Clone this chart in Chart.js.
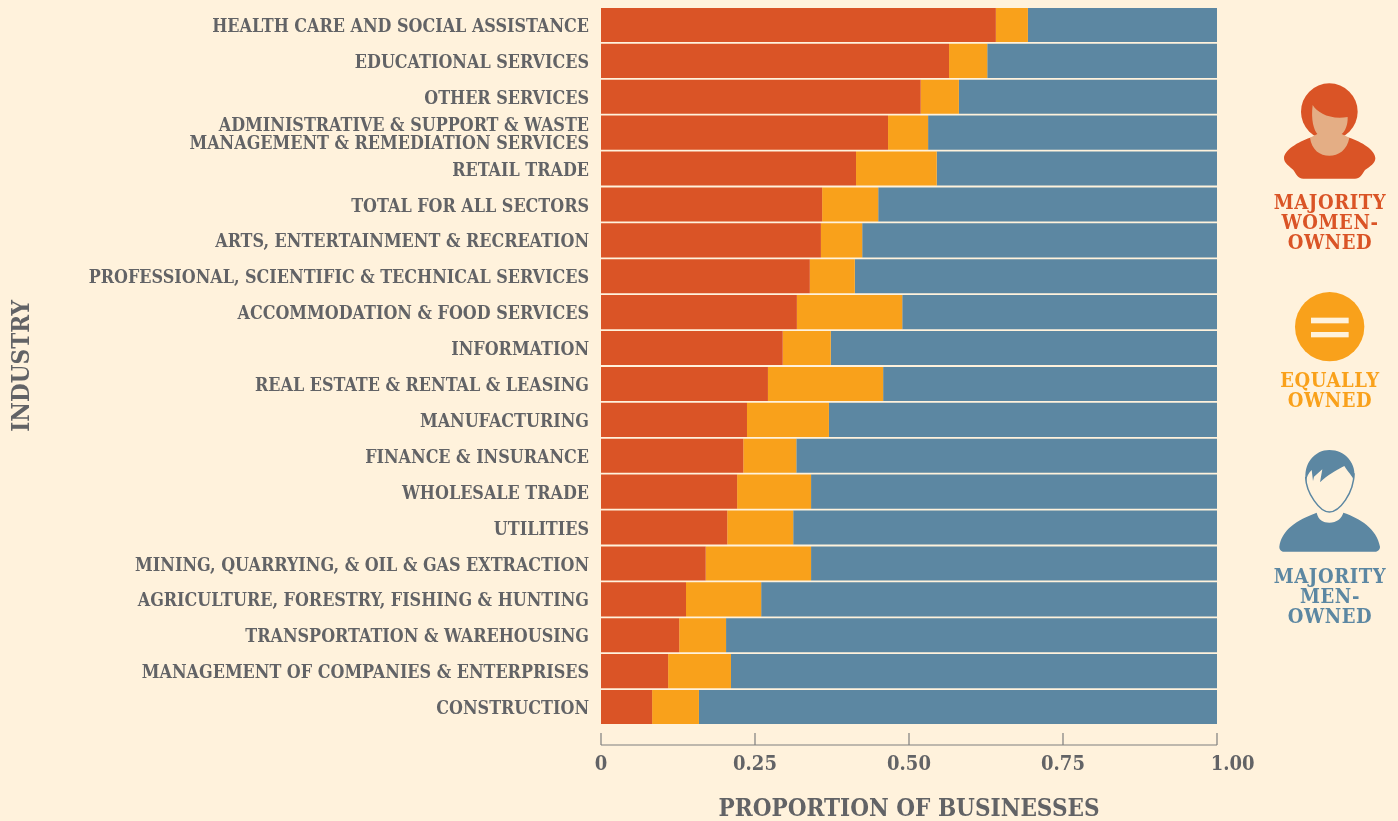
<!DOCTYPE html>
<html>
<head>
<meta charset="utf-8">
<script src="https://cdn.jsdelivr.net/npm/chart.js@4"></script>
<style>
    html, body { margin: 0; padding: 0; background: #fff2dc; overflow: hidden; }
    #wrap { position: relative; width: 1398px; height: 821px; }
    #wrap canvas { position: absolute; left: 0; top: 0; }
    .key {
        position: absolute; width: 158px; left: 1251px; text-align: center;
        font: bold 20px/20px "DejaVu Serif Condensed", "DejaVu Serif", serif; letter-spacing: 0.6px;
    }
    .icon { position: absolute; }
</style>
</head>
<body>
<div id="wrap">
    <canvas id="industryChart" width="1398" height="821"></canvas>

    <svg class="icon" style="left:1240px;top:70px" width="158" height="120" viewBox="0 0 474 360">
        <path d="M210 203 C175 215 132 240 132 265 C132 280 150 290 160 300 C170 315 175 326 190 326 L345 326 C360 326 365 315 375 300 C390 290 406 280 406 265 C406 240 365 215 328 203 Z" fill="#da5426"/>
        <circle cx="268" cy="125" r="85" fill="#da5426"/>
        <path d="M218 105 C232 128 270 150 323 141 C324 165 315 185 305 192 L328 203 C322 240 295 257 268 257 C240 257 215 240 210 203 L232 192 C222 180 212 150 218 105 Z" fill="#e4ae85"/>
    </svg>
    <div class="key" style="top:192px;color:#da5426">MAJORITY<br>WOMEN-<br>OWNED</div>

    <svg class="icon" style="left:1240px;top:280px" width="158" height="90" viewBox="0 0 474 270">
        <circle cx="269" cy="140" r="104" fill="#f9a11b"/>
        <rect x="213" y="113" width="113" height="17" fill="#fff2dc"/>
        <rect x="213" y="156" width="113" height="16" fill="#fff2dc"/>
    </svg>
    <div class="key" style="top:370px;color:#f9a11b">EQUALLY<br>OWNED</div>

    <svg class="icon" style="left:1240px;top:445px" width="158" height="112" viewBox="0 495 474 336">
        <path d="M118 800 C125 750 170 720 230 698 C235 720 250 728 268 728 C290 728 305 715 310 698 C360 715 410 745 420 800 C420 810 412 815 405 815 L132 815 C125 815 118 810 118 800 Z" fill="#5c87a2"/>
        <path d="M197 590 C198 640 240 696 268 696 C298 696 342 640 342 580" fill="none" stroke="#5c87a2" stroke-width="4.5"/>
        <path d="M198 605 C188 550 225 510 268 510 C315 510 352 550 342 600 C335 585 325 578 313 558 C290 570 262 585 240 607 L247 568 L222 590 L219 603 L215 570 C205 580 200 590 198 605 Z" fill="#5c87a2"/>
    </svg>
    <div class="key" style="top:566px;color:#5c87a2">MAJORITY<br>MEN-<br>OWNED</div>
</div>

<script>
// Data
const industries = [
    'HEALTH CARE AND SOCIAL ASSISTANCE',
    'EDUCATIONAL SERVICES',
    'OTHER SERVICES',
    ['ADMINISTRATIVE & SUPPORT & WASTE', 'MANAGEMENT & REMEDIATION SERVICES'],
    'RETAIL TRADE',
    'TOTAL FOR ALL SECTORS',
    'ARTS, ENTERTAINMENT & RECREATION',
    'PROFESSIONAL, SCIENTIFIC & TECHNICAL SERVICES',
    'ACCOMMODATION & FOOD SERVICES',
    'INFORMATION',
    'REAL ESTATE & RENTAL & LEASING',
    'MANUFACTURING',
    'FINANCE & INSURANCE',
    'WHOLESALE TRADE',
    'UTILITIES',
    'MINING, QUARRYING, & OIL & GAS EXTRACTION',
    'AGRICULTURE, FORESTRY, FISHING & HUNTING',
    'TRANSPORTATION & WAREHOUSING',
    'MANAGEMENT OF COMPANIES & ENTERPRISES',
    'CONSTRUCTION'
];
const womenOwned = [0.641, 0.565, 0.519, 0.466, 0.414, 0.359, 0.357, 0.339, 0.318, 0.295,
                    0.271, 0.237, 0.231, 0.221, 0.205, 0.170, 0.138, 0.127, 0.109, 0.083];
const equallyOwned = [0.052, 0.062, 0.062, 0.065, 0.131, 0.091, 0.067, 0.073, 0.171, 0.078,
                      0.187, 0.133, 0.086, 0.120, 0.107, 0.171, 0.122, 0.076, 0.102, 0.076];
const menOwned = [0.307, 0.373, 0.419, 0.469, 0.455, 0.550, 0.576, 0.588, 0.511, 0.627,
                  0.542, 0.630, 0.683, 0.659, 0.688, 0.659, 0.740, 0.797, 0.789, 0.841];
const xTicks = [0, 0.25, 0.5, 0.75, 1];
const xTickLabels = ['0', '0.25', '0.50', '0.75', '1.00'];

const ink = '#626366';
const serif = '"DejaVu Serif Condensed", "DejaVu Serif", serif';

// The x axis sits below the bars with a gap, so it is drawn off the scale here
const detachedAxis = {
    id: 'detachedAxis',
    afterDraw(chart) {
        const { ctx } = chart;
        const x = chart.scales.x;
        const y0 = 745, tickTop = 733;
        ctx.save();
        ctx.strokeStyle = '#7f7f7f';
        ctx.lineWidth = 1.2;
        ctx.beginPath();
        ctx.moveTo(x.getPixelForValue(0), y0);
        ctx.lineTo(x.getPixelForValue(1), y0);
        xTicks.forEach(t => {
            ctx.moveTo(x.getPixelForValue(t), y0);
            ctx.lineTo(x.getPixelForValue(t), tickTop);
        });
        ctx.stroke();
        ctx.restore();
    }
};

// Caps of this font ride high on the middle baseline, nudge the industry labels down
const nudgeLabels = {
    id: 'nudgeLabels',
    afterLayout(chart) {
        chart.scales.y.getLabelItems().forEach(item => { item.textOffset += 2.5; });
    }
};

const ctx = document.getElementById('industryChart');
new Chart(ctx, {
    type: 'bar',
    data: {
        labels: industries,
        datasets: [
            { label: 'Majority women-owned', data: womenOwned, backgroundColor: '#da5426' },
            { label: 'Equally owned', data: equallyOwned, backgroundColor: '#f9a11b' },
            { label: 'Majority men-owned', data: menOwned, backgroundColor: '#5c87a2' }
        ]
    },
    options: {
        indexAxis: 'y',
        responsive: false,
        animation: false,
        devicePixelRatio: 1,
        barPercentage: 0.95,
        categoryPercentage: 1,
        layout: { padding: { left: 8, right: 181, top: 7, bottom: 0 } },
        plugins: { legend: { display: false }, tooltip: { enabled: false } },
        scales: {
            x: {
                stacked: true,
                min: 0,
                max: 1,
                grid: { display: false },
                border: { display: false },
                afterFit: axis => { axis.height = 96; },
                afterBuildTicks: axis => { axis.ticks = xTicks.map(v => ({ value: v })); },
                ticks: {
                    padding: 20,
                    maxRotation: 0,
                    color: ink,
                    font: { family: serif, weight: 'bold', size: 20 },
                    // the last label sits to the right of its tick in the reference
                    callback: (v) => (v === 1 ? '     ' : '') + xTickLabels[xTicks.indexOf(v)]
                },
                title: {
                    display: true,
                    text: 'PROPORTION OF BUSINESSES',
                    color: ink,
                    padding: { top: 16, bottom: -3 },
                    font: { family: serif, weight: 'bold', size: 24 }
                }
            },
            y: {
                stacked: true,
                grid: { display: false },
                border: { display: false },
                afterFit: axis => {
                    axis.width = 593;
                    // no label overhang above the first bar
                    axis.paddingTop = 0;
                    axis.paddingBottom = 0;
                },
                ticks: {
                    autoSkip: false,
                    padding: 4,
                    color: ink,
                    font: { family: serif, weight: 'bold', size: 17.8, lineHeight: 1 }
                },
                title: {
                    display: true,
                    text: 'INDUSTRY',
                    color: ink,
                    padding: 0,
                    font: { family: serif, weight: 'bold', size: 24 }
                }
            }
        }
    },
    plugins: [detachedAxis, nudgeLabels]
});
</script>
</body>
</html>
